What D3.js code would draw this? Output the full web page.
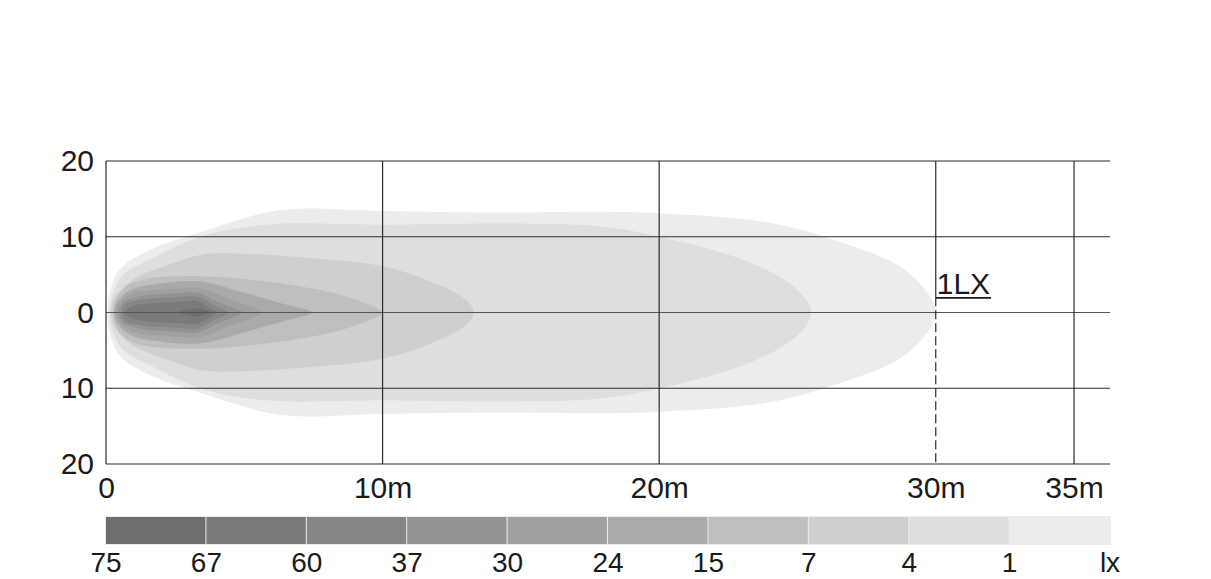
<!DOCTYPE html>
<html><head><meta charset="utf-8">
<script src="https://cdn.jsdelivr.net/npm/d3@7"></script>
<style>
body{margin:0;background:#fff}
svg{display:block}
text{font-family:"Liberation Sans",Arial,sans-serif;fill:#1a1a1a}
</style>
</head><body>
<svg id="chart" width="1211" height="579"></svg>
<script>
// ---- data ----
const levels = [75, 67, 60, 37, 30, 24, 15, 7, 4, 1];
const levelColors = ["#6e6e6e","#7a7a7a","#868686","#939393","#a0a0a0","#aaaaaa","#bfbfbf","#cfcfcf","#dedede","#ececec"];
const legendLabels = ["75","67","60","37","30","24","15","7","4","1","lx"];
const xTicks = [0, 10, 20, 30, 35];
const xTickLabels = ["0", "10m", "20m", "30m", "35m"];
const yTicks = [20, 10, 0, -10, -20];
const yTickLabels = ["20", "10", "0", "10", "20"];
// isolux half-profiles: [distance m, half-width m] (mirrored about the axis)
const iso1  = [[0.05,0],[0.15,2.8],[0.5,5.7],[1.6,8.3],[3.4,10.6],[5.8,13.2],[7,13.7],[10,13.4],[14.2,13.2],[17.9,13.3],[20,13.1],[23.9,11.9],[26.3,9.6],[28.7,6.1],[29.7,2.6],[30,0]];
const iso4  = [[0.12,0],[0.25,2.5],[0.6,4.9],[1.6,7.0],[3.4,10.0],[5.8,11.6],[10,11.6],[14.2,11.75],[17.9,11.35],[20,10.0],[22.7,7.4],[24.5,4.4],[25.3,1.8],[25.5,0]];
const iso7  = [[0.18,0],[0.3,1.9],[1.0,4.4],[2.2,6.2],[3.4,7.6],[4.6,7.8],[7.0,7.3],[10,6.1],[11.8,4.0],[13.0,1.7],[13.3,0]];
const iso15 = [[0.25,0],[0.35,1.7],[0.7,3.4],[1.4,4.4],[3.4,4.8],[5.8,4.1],[8.2,2.6],[9.4,1.2],[10,0]];
const iso24 = [[0.3,0],[0.42,1.5],[0.9,3.0],[1.9,3.8],[3.4,4.1],[5.0,2.6],[6.5,1.05],[7.45,0]];
const iso30 = [[0.37,0],[0.5,1.4],[1.0,2.6],[2.2,3.1],[3.4,3.2],[4.5,1.7],[5.6,0]];
const iso37 = [[0.45,0],[0.6,1.3],[1.2,2.1],[2.4,2.5],[3.3,2.6],[4.1,1.3],[4.9,0]];
const iso60 = [[0.55,0],[0.7,1.1],[1.3,1.7],[2.4,2.0],[3.3,2.1],[3.9,1.0],[4.4,0]];
const iso67 = [[0.7,0],[0.9,0.8],[1.6,1.2],[2.6,1.4],[3.3,1.5],[3.7,0.7],[4.0,0]];
const iso75 = [[2.6,0],[3.0,0.35],[3.3,0.55],[3.6,0.3],[3.9,0]];
const isoProfiles = [iso75, iso67, iso60, iso37, iso30, iso24, iso15, iso7, iso4, iso1];
const markerX = 30, markerLabel = "1LX", markerY = 2.0;

// ---- layout ----
const svg = d3.select("#chart");
const x = d3.scaleLinear().domain([0, 36.3]).range([106, 1110]);
const y = d3.scaleLinear().domain([-20, 20]).range([464, 161]);
const FONT = 30;

// contours (outermost first)
const line = d3.line().x(d => x(d[0])).y(d => y(d[1])).curve(d3.curveCatmullRomClosed.alpha(0.5));
function closedShape(p) {
  const top = p.slice();
  const bottom = p.slice(1, -1).reverse().map(d => [d[0], -d[1]]);
  return top.concat(bottom);
}
const order = d3.range(levels.length).reverse();
svg.append("g").selectAll("path").data(order).join("path")
  .attr("d", i => line(closedShape(isoProfiles[i])))
  .attr("fill", i => levelColors[i]);

// grid
const g = svg.append("g").attr("stroke", "#2b2b2b").attr("stroke-width", 1.2).attr("fill", "none");
g.selectAll("line.h").data(yTicks).join("line").attr("class","h")
  .attr("x1", x(0)).attr("x2", x(36.3)).attr("y1", d => y(d)).attr("y2", d => y(d))
  .attr("stroke", d => d === 0 ? "#555" : "#2b2b2b");
g.append("line").attr("x1", x(0)).attr("x2", x(0)).attr("y1", y(20)).attr("y2", y(-20));
g.selectAll("line.v").data(xTicks.filter(d => d !== 0 && d !== markerX)).join("line").attr("class","v")
  .attr("x1", d => x(d)).attr("x2", d => x(d)).attr("y1", y(20)).attr("y2", y(-20));
g.append("line").attr("x1", x(markerX)).attr("x2", x(markerX)).attr("y1", y(20)).attr("y2", y(markerY));
g.append("line").attr("x1", x(markerX)).attr("x2", x(markerX)).attr("y1", y(markerY)).attr("y2", y(-20))
  .attr("stroke-dasharray", "9,4");

// marker label
const ml = svg.append("text").attr("x", x(markerX) + 1).attr("y", y(markerY) - 3)
  .attr("font-size", 30).text(markerLabel);
const mlw = ml.node().getComputedTextLength();
svg.append("line").attr("x1", x(markerX)).attr("x2", x(markerX) + mlw + 2)
  .attr("y1", y(markerY) + 0.5).attr("y2", y(markerY) + 0.5).attr("stroke", "#1a1a1a").attr("stroke-width", 1.6);

// axes labels
const ya = svg.append("g").attr("transform", `translate(${x(0)},0)`)
  .call(d3.axisLeft(y).tickValues(yTicks).tickSize(0).tickPadding(12).tickFormat((d, i) => yTickLabels[i]));
ya.select(".domain").remove();
ya.selectAll("text").attr("font-size", FONT).attr("font-family", '"Liberation Sans",Arial,sans-serif').attr("fill", "#1a1a1a");

const xa = svg.append("g").attr("transform", `translate(0,${y(-20)})`)
  .call(d3.axisBottom(x).tickValues(xTicks).tickSize(0).tickPadding(13).tickFormat((d, i) => xTickLabels[i]));
xa.select(".domain").remove();
xa.selectAll("text").attr("font-size", FONT).attr("font-family", '"Liberation Sans",Arial,sans-serif').attr("fill", "#1a1a1a");

// legend
const lx = d3.scaleBand().domain(levels).range([106, 1110]).padding(0);
const lg = svg.append("g");
lg.append("rect").attr("x", 105).attr("y", 516).attr("width", 1006).attr("height", 29).attr("fill", "#ececec");
lg.selectAll("rect.b").data(levels).join("rect").attr("class", "b")
  .attr("x", d => lx(d)).attr("y", 517).attr("width", lx.bandwidth() - 1).attr("height", 27)
  .attr("fill", (d, i) => levelColors[i]);
lg.selectAll("text").data(legendLabels).join("text")
  .attr("x", (d, i) => 106 + i * lx.bandwidth()).attr("y", 572)
  .attr("text-anchor", "middle").attr("font-size", 28).text(d => d);
</script>
</body></html>
